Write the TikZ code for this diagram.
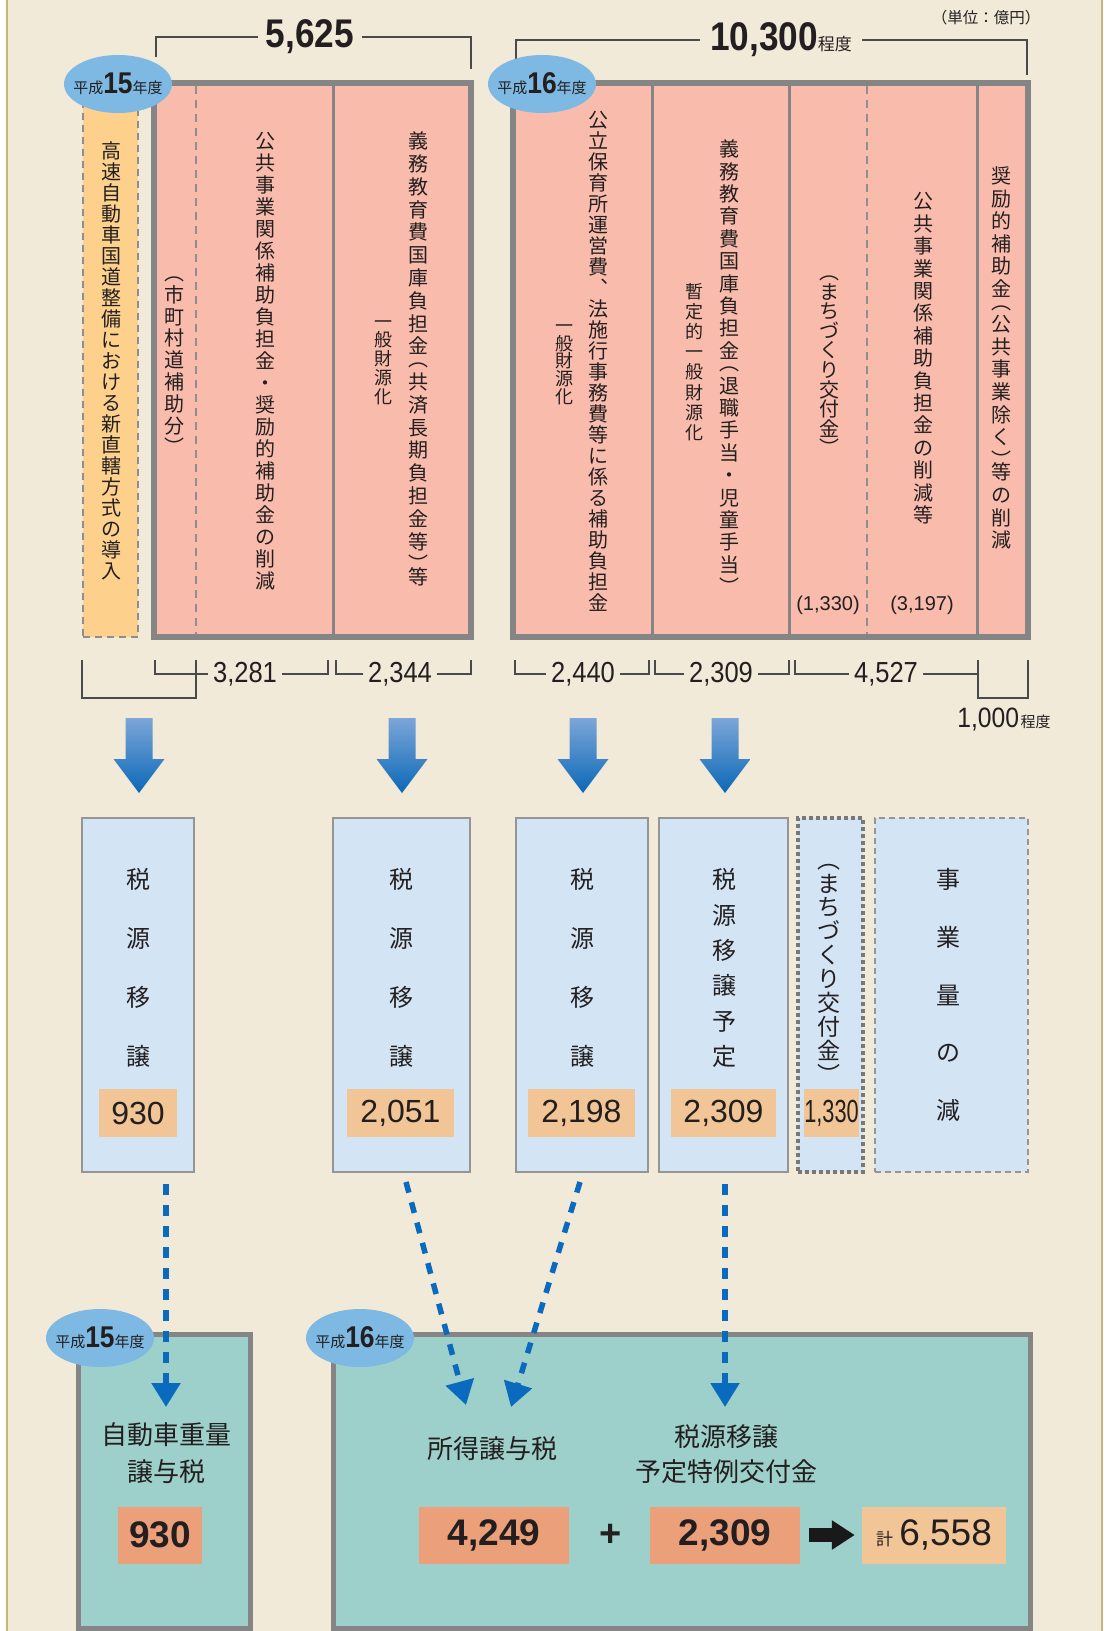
\documentclass[tikz,border=0pt]{standalone}
\usepackage{fontspec}
\setmainfont{Noto Sans CJK JP}
\newfontfamily\numfont{Liberation Sans}
\newfontfamily\narrowfont[FakeStretch=0.88]{Liberation Sans}
\newfontfamily\condfont[FakeStretch=0.68]{Liberation Sans}
\usetikzlibrary{arrows.meta,shapes.geometric}

\definecolor{bgbeige}{HTML}{F2EAD8}
\definecolor{edgetan}{HTML}{C8B37C}
\definecolor{pinkfill}{HTML}{F9BCAC}
\definecolor{orangefill}{HTML}{FDD18C}
\definecolor{boxgray}{HTML}{858585}
\definecolor{dashgray}{HTML}{8E8E8E}
\definecolor{brgray}{HTML}{4A4A4A}
\definecolor{erablue}{HTML}{7DB9E2}
\definecolor{lightblue}{HTML}{D3E4F4}
\definecolor{midgray}{HTML}{959595}
\definecolor{numorange}{HTML}{F1C595}
\definecolor{darkorange}{HTML}{ECA07A}
\definecolor{tealfill}{HTML}{9DD0CA}
\definecolor{arrowblue}{HTML}{0A6BBE}
\definecolor{arrowtop}{HTML}{7CA6D8}
\definecolor{arrowbot}{HTML}{0B68B8}
\definecolor{txtdark}{HTML}{231F20}

\ExplSyntaxOn
\cs_new_protected:Npn \tate_full:n #1
	{ \hbox_to_wd:nn { 1em } { \hss \vrule height .88em depth .12em width 0pt \relax #1 \hss } }
\cs_new_protected:Npn \tate_open:n #1
	{ \hbox_to_wd:nn { 1em } { \hss \vrule height .5em depth 0pt width 0pt \relax \smash { \raisebox { .12em } { #1 } } \hss } }
\cs_new_protected:Npn \tate_close:n #1
	{ \hbox_to_wd:nn { 1em } { \hss \vrule height .5em depth 0pt width 0pt \relax \smash { \raisebox { -.38em } { #1 } } \hss } }
\NewDocumentCommand \tate { O{1.07} m }
	{
		\vbox:n
			{
				\offinterlineskip
				\tl_map_inline:nn { #2 }
					{
						\str_case:nnF { ##1 }
							{
								{ ︵ } { \tate_open:n { ##1 } }
								{ ︶ } { \tate_close:n { ##1 } }
							}
							{ \tate_full:n { ##1 } }
						\skip_vertical:n { #1em - 1em }
					}
				\tex_unskip:D
			}
	}
\ExplSyntaxOff

\newcommand\eralabel[1]{{\fontsize{15}{15}\selectfont 平成}{\narrowfont\bfseries\fontsize{30}{30}\selectfont #1}{\fontsize{15}{15}\selectfont 年度}}

\tikzset{
	bracket/.style={draw=brgray, line width=1.3pt},
	toplabel/.style={fill=bgbeige, inner xsep=8pt, inner ysep=0pt, font=\narrowfont\bfseries\fontsize{40}{40}\selectfont},
	brnum/.style={fill=bgbeige, inner xsep=5pt, inner ysep=0pt, font=\narrowfont\fontsize{29}{29}\selectfont},
	orangecol/.style={draw=dashgray, line width=2.5pt, dash pattern=on 7pt off 5pt, fill=orangefill, inner sep=0pt},
	pinkbox/.style={draw=boxgray, line width=6pt, fill=pinkfill, inner sep=0pt},
	divider/.style={draw=boxgray, line width=3pt},
	dashdiv/.style={draw=dashgray, line width=2.5pt, dash pattern=on 8pt off 6pt},
	era/.style={ellipse, fill=erablue, minimum width=108pt, minimum height=58pt, inner xsep=-7pt, inner ysep=0pt},
	tatetext/.style={inner sep=0pt, font=\fontsize{20}{20}\selectfont},
	tatesub/.style={inner sep=0pt, font=\fontsize{18}{18}\selectfont},
	smallnum/.style={inner sep=0pt, font=\numfont\fontsize{20}{20}\selectfont},
	downarrow/.style={top color=arrowtop, bottom color=arrowbot},
	zeibox/.style={draw=midgray, line width=2.5pt, fill=lightblue, inner sep=0pt, minimum height=354pt},
	machibox/.style={draw=boxgray!90!black, line width=4pt, dash pattern=on 4pt off 3pt, fill=lightblue, inner sep=0pt, minimum height=354pt},
	jigyobox/.style={draw=midgray, line width=2pt, dash pattern=on 6pt off 4pt, fill=lightblue, inner sep=0pt, minimum height=354pt},
	midtext/.style={inner sep=0pt, font=\fontsize{24}{24}\selectfont},
	numbox/.style={fill=numorange, inner sep=0pt, minimum height=48pt, font=\numfont\fontsize{32}{32}\selectfont},
	tealbox/.style={draw=boxgray, line width=5pt, fill=tealfill, inner sep=0pt, minimum height=294pt},
	bottext/.style={align=center, inner sep=0pt, font=\fontsize{26}{37}\selectfont},
	bignum/.style={fill=darkorange, inner sep=0pt, minimum height=57pt, font=\numfont\bfseries\fontsize{37}{37}\selectfont},
	keibox/.style={fill=numorange, inner sep=0pt, minimum height=57pt, font=\numfont\fontsize{37}{37}\selectfont},
	dasharrow/.style={draw=arrowblue, line width=5.5pt, dash pattern=on 11pt off 10pt, -{Triangle[width=28pt,length=24pt]}},
	blackarrow/.style={draw=black!90, line width=14pt, -{Triangle[width=28pt,length=23pt]}}
}

\begin{document}
\begin{tikzpicture}[x=1pt, y=-1pt, text=txtdark]
	\useasboundingbox (0,0) rectangle (1115,1631);
	\fill[white] (0,0) rectangle (1115,1631);
	\fill[bgbeige] (7,0) rectangle (1102,1631);
	\draw[edgetan, line width=1.5pt] (7,0) -- (7,1631);
	\draw[edgetan, line width=1.5pt] (1102,0) -- (1102,1631);

	\node[font=\fontsize{15.5}{15.5}\selectfont] (unit) at (986,18) {（単位：億円）};
	\draw[bracket] (156,57) |- (471,37) -- (471,69);
	\node[toplabel] (sum15) at (310,37) {5,625};
	\draw[bracket] (516,62) |- (1027,40) -- (1027,75);
	\node[toplabel, inner xsep=10pt] (sum16) at (781,40) {10,300{\normalfont\fontsize{17}{17}\selectfont 程度}};

	\node[orangecol, minimum width=55pt, minimum height=549pt] (newroad) at (110.5,362.5) {};
	\node[pinkbox, minimum width=317pt, minimum height=554pt] (cut15) at (312.5,360) {};
	\node[pinkbox, minimum width=515pt, minimum height=554pt] (cut16) at (770.5,360) {};
	\draw[dashdiv] (196,86) -- (196,634);
	\draw[divider] (333,86) -- (333,634);
	\foreach \dx in {652,789,977}
		\draw[divider] (\dx,86) -- (\dx,634);
	\draw[dashdiv] (867,86) -- (867,634);
	\node[era] (era15a) at (118,84) {\eralabel{15}};
	\node[era] (era16a) at (542,84) {\eralabel{16}};

	\node[tatetext] (v1) at (111,361) {\tate[1.05]{高速自動車国道整備における新直轄方式の導入}};
	\node[tatetext] (v2) at (174,360) {\tate[1.09]{︵市町村道補助分︶}};
	\node[tatetext] (v3) at (265,361) {\tate[1.1]{公共事業関係補助負担金・奨励的補助金の削減}};
	\node[tatetext] (v4) at (418,359) {\tate[1.14]{義務教育費国庫負担金︵共済長期負担金等︶等}};
	\node[tatesub] (v4s) at (383,359) {\tate[1.05]{一般財源化}};
	\node[tatetext] (v5) at (598,361) {\tate[1.05]{公立保育所運営費︑法施行事務費等に係る補助負担金}};
	\node[tatesub] (v5s) at (564,361) {\tate[0.99]{一般財源化}};
	\node[tatetext] (v6) at (729,363) {\tate[1.12]{義務教育費国庫負担金︵退職手当・児童手当︶}};
	\node[tatesub] (v6s) at (694,362) {\tate[1.12]{暫定的一般財源化}};
	\node[tatetext] (v7) at (829,360) {\tate[0.98]{︵まちづくり交付金︶}};
	\node[tatetext] (v8) at (923,358) {\tate[1.12]{公共事業関係補助負担金の削減等}};
	\node[tatetext] (v9) at (1001,358) {\tate[1.13]{奨励的補助金︵公共事業除く︶等の削減}};
	\node[smallnum] (p1330) at (828,605) {(1,330)};
	\node[smallnum] (p3197) at (922,605) {(3,197)};

	\draw[bracket] (82,660) |- (196,698) -- (196,660);
	\draw[bracket] (155,660) |- (328,674) -- (328,660);
	\draw[bracket] (336,660) |- (471,674) -- (471,660);
	\draw[bracket] (515,660) |- (649,674) -- (649,660);
	\draw[bracket] (655,660) |- (789,674) -- (789,660);
	\draw[bracket] (795,660) |- (978,674) -- (978,660);
	\draw[bracket] (978,660) |- (1028,698) -- (1028,660);
	\node[brnum] (b3281) at (245,674) {3,281};
	\node[brnum] (b2344) at (400,674) {2,344};
	\node[brnum] (b2440) at (583,674) {2,440};
	\node[brnum] (b2309) at (721,674) {2,309};
	\node[brnum] (b4527) at (886,674) {4,527};
	\node[inner sep=0pt] (b1000) at (1004,720) {{\narrowfont\fontsize{28}{28}\selectfont 1,000}\,{\fontsize{15}{15}\selectfont 程度}};

	\foreach \ax in {139,402,583,725}
		\shade[downarrow] (\ax-13.5,718) -- (\ax+13.5,718) -- (\ax+13.5,759) -- (\ax+25.5,759) -- (\ax,793) -- (\ax-25.5,759) -- (\ax-13.5,759) -- cycle;

	\node[zeibox, minimum width=112pt] (zei1) at (138,995) {};
	\node[zeibox, minimum width=137pt] (zei2) at (401.5,995) {};
	\node[zeibox, minimum width=132pt] (zei3) at (582,995) {};
	\node[zeibox, minimum width=129pt] (zei4) at (723.5,995) {};
	\node[machibox, minimum width=65pt] (machi) at (830.5,995) {};
	\node[jigyobox, minimum width=153pt] (jigyo) at (951.5,995) {};
	\node[midtext] (z1t) at (138,968) {\tate[2.45]{税源移譲}};
	\node[midtext] (z2t) at (401,968) {\tate[2.45]{税源移譲}};
	\node[midtext] (z3t) at (582,968) {\tate[2.45]{税源移譲}};
	\node[midtext] (z4t) at (724,968) {\tate[1.47]{税源移譲予定}};
	\node[midtext, font=\fontsize{23}{23}\selectfont] (z5t) at (829,967) {\tate[1.04]{︵まちづくり交付金︶}};
	\node[midtext] (z6t) at (948,995) {\tate[2.41]{事業量の減}};
	\node[numbox, minimum width=78pt] (n930) at (138,1113) {930};
	\node[numbox, minimum width=107pt] (n2051) at (400.5,1113) {2,051};
	\node[numbox, minimum width=107pt] (n2198) at (581.5,1113) {2,198};
	\node[numbox, minimum width=105pt] (n2309) at (723.5,1113) {2,309};
	\node[numbox, minimum width=55pt, font=\condfont\fontsize{32}{32}\selectfont] (n1330) at (831.5,1113) {1,330};

	\node[tealbox, minimum width=172pt] (jyoyo15) at (164,1481) {};
	\node[tealbox, minimum width=697pt] (jyoyo16) at (681.5,1481) {};
	\node[era] (era15b) at (100,1338) {\eralabel{15}};
	\node[era] (era16b) at (360,1338) {\eralabel{16}};
	\node[bottext] (car) at (166,1453) {自動車重量\\譲与税};
	\node[bignum, minimum width=84pt] (g930) at (160,1535) {930};
	\node[bottext] (income) at (492,1449) {所得譲与税};
	\node[bottext, font=\fontsize{26}{35}\selectfont] (special) at (726,1454) {税源移譲\\予定特例交付金};
	\node[bignum, minimum width=150pt] (g4249) at (494,1535) {4,249};
	\node[font=\numfont\bfseries\fontsize{38}{38}\selectfont] (plus) at (611,1535) {+};
	\node[bignum, minimum width=150pt] (g2309) at (725,1535) {2,309};
	\node[keibox, minimum width=144pt] (total) at (934,1535) {{\normalfont\fontsize{17}{17}\selectfont 計}\,6,558};
	\draw[blackarrow, shorten <=9pt, shorten >=7pt] (g2309) -- (total);

	\coordinate (s1) at (166,1184);
	\coordinate (t1) at (166,1407);
	\coordinate (s2) at (406,1182);
	\coordinate (t2) at (466,1405);
	\coordinate (s3) at (580,1182);
	\coordinate (t3) at (511,1407);
	\coordinate (s4) at (725,1184);
	\coordinate (t4) at (725,1407);
	\draw[dasharrow] (s1) -- (t1);
	\draw[dasharrow] (s2) -- (t2);
	\draw[dasharrow] (s3) -- (t3);
	\draw[dasharrow] (s4) -- (t4);
\end{tikzpicture}
\end{document}
